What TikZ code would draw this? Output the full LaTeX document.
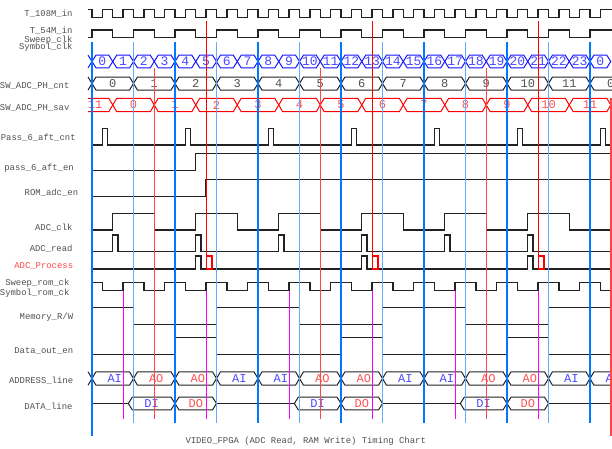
\documentclass[tikz,border=0pt]{standalone}
\usepackage{fontspec}
\setmonofont{Liberation Mono}
\usepackage{tikz}

\definecolor{wavegray}{RGB}{34,34,34}
\definecolor{labelgray}{RGB}{80,80,80}
\definecolor{busblue}{RGB}{20,20,255}
\definecolor{textblue}{RGB}{72,72,255}
\definecolor{textred}{RGB}{255,80,80}
\definecolor{markblue}{RGB}{0,120,255}
\definecolor{marklight}{RGB}{100,170,255}
\definecolor{markred}{RGB}{255,70,70}
\definecolor{markpink}{RGB}{255,0,255}

% one bus value: style, from, to, centre y, half height, name, text style, text
\newcommand{\busseg}[8]{%
  \draw[busline, #1] (#2,#4) -- ({#2+0.19},{#4-#5}) -- ({#3-0.19},{#4-#5})
    -- ({#3},#4) -- ({#3-0.19},{#4+#5}) -- ({#2+0.19},{#4+#5}) -- cycle;
  \node[busval, #7] (#6) at ({(#2+#3)/2},#4) {#8};
}

\begin{document}
\begin{tikzpicture}[x=20.75pt, y=-1pt]
        % Define styles
        \tikzset{
            wave/.style={draw=wavegray, line width=1.3pt},
            busline/.style={line width=1pt, line join=miter},
            signame/.style={anchor=base east, inner sep=0pt, text=labelgray, font=\ttfamily\fontsize{8.9}{10}\selectfont},
            busval/.style={inner sep=0pt, font=\ttfamily\fontsize{12}{12}\selectfont},
            markdark/.style={draw=markblue, line width=1.1pt},
            marklite/.style={draw=marklight, line width=1.5pt},
            markadc/.style={draw=markred, line width=1.4pt},
            markrom/.style={draw=red, line width=1.2pt},
            markram/.style={draw=markpink, line width=1.1pt}
        }
        \useasboundingbox (-4.4337,0) rectangle (25.0602,448);

        % Signal names
        \node[signame] (name_t108) at (-0.930,16) {T\_108M\_in};
        \node[signame] (name_t54) at (-0.930,33.5) {T\_54M\_in};
        \node[signame] (name_sweep_clk) at (-0.930,42.3) {Sweep\_clk};
        \node[signame] (name_symbol_clk) at (-0.930,49.8) {Symbol\_clk};
        \node[signame] (name_ph_cnt) at (-1.08,88.5) {SW\_ADC\_PH\_cnt};
        \node[signame] (name_ph_sav) at (-1.08,110) {SW\_ADC\_PH\_sav};
        \node[signame] (name_pass_cnt) at (-0.78,140.5) {Pass\_6\_aft\_cnt};
        \node[signame] (name_pass_en) at (-0.867,170) {pass\_6\_aft\_en};
        \node[signame] (name_rom_en) at (-0.660,195.5) {ROM\_adc\_en};
        \node[signame] (name_adc_clk) at (-0.930,230) {ADC\_clk};
        \node[signame] (name_adc_read) at (-0.930,251) {ADC\_read};
        \node[signame, text=markred] (name_adc_proc) at (-0.901,268.3) {ADC\_Process};
        \node[signame] (name_sweep_rom) at (-1.08,285.5) {Sweep\_rom\_ck};
        \node[signame] (name_symbol_rom) at (-1.08,295) {Symbol\_rom\_ck};
        \node[signame] (name_mem_rw) at (-0.901,319.3) {Memory\_R/W};
        \node[signame] (name_data_en) at (-0.901,353.3) {Data\_out\_en};
        \node[signame] (name_addr) at (-0.901,383) {ADDRESS\_line};
        \node[signame] (name_data) at (-0.930,409) {DATA\_line};

        % Clocks
        \draw[wave] (-0.19,9.5) \foreach \k in {0,...,24}{ -- (\k,9.5) -- (\k,17.5) -- (\k+0.5,17.5) -- (\k+0.5,9.5) } -- (25.1,9.5);
        \draw[wave] (-0.19,37.3) \foreach \k in {0,2,...,22}{ -- (\k,37.3) -- (\k,30) -- (\k+1,30) -- (\k+1,37.3) } -- (24,37.3) -- (24,30) -- (25.1,30);

        % Buses
        \draw[busline, draw=busblue] (-0.19,55.2) -- (0,61.5) -- (-0.19,67.8);
        \foreach \k in {0,...,24}{
            \pgfmathtruncatemacro{\symval}{mod(\k,24)}
            \busseg{draw=busblue}{\k}{\k+1}{61.5}{6.3}{sym_\k}{text=textblue, font=\ttfamily\fontsize{13}{13}\selectfont}{\symval}
        }
        \draw[busline, draw=wavegray] (-0.19,77) -- (0,83.5) -- (-0.19,90);
        \foreach \k in {0,...,12}{
            \pgfmathtruncatemacro{\cntval}{mod(\k,12)}
            \busseg{draw=wavegray}{2*\k}{2*\k+2}{83.5}{6.5}{cnt_\k}{text=labelgray}{\cntval}
        }
        \draw[busline, draw=red] (-0.19,98.3) -- (0.81,98.3) -- (1,105) -- (0.81,111.7) -- (-0.19,111.7);
        \node[busval, text=textred] (sav_start) at (0.15,105) {11};
        \foreach \k in {0,...,11}{
            \busseg{draw=red}{2*\k+1}{2*\k+3}{105}{6.7}{sav_\k}{text=textred}{\k}
        }

        % Control signals
        \draw[wave] (0,145) \foreach \k in {0.5,4.5,...,24.5}{ -- (\k,145) -- (\k,128.3) -- (\k+0.25,128.3) -- (\k+0.25,145) } -- (25.1,145);
        \draw[wave] (0,170.7) -- (5,170.7) -- (5,153.3) -- (25.1,153.3);
        \draw[wave] (0,196.7) -- (5.5,196.7) -- (5.5,179.3) -- (25.1,179.3);
        \draw[wave] (0,230) \foreach \k in {1,5,...,21}{ -- (\k,230) -- (\k,213.3) -- (\k+2,213.3) -- (\k+2,230) } -- (25.1,230);
        \draw[wave] (0,251.7) \foreach \k in {1,5,...,21}{ -- (\k,251.7) -- (\k,235) -- (\k+0.25,235) -- (\k+0.25,251.7) } -- (25.1,251.7);
        \draw[wave] (0,269) \foreach \k in {5,13,21}{ -- (\k,269) -- (\k,256) -- (\k+0.25,256) -- (\k+0.25,269) } -- (25.1,269);
        \foreach \k in {5.5,13.5,21.5}{
            \draw[draw=red, line width=1.2pt] (\k,269) rectangle (\k+0.28,256);
        }
        \draw[wave] (0,282.3) \foreach \k in {0.5,2.5,...,22.5}{ -- (\k,282.3) -- (\k,290.7) -- (\k+1,290.7) -- (\k+1,282.3) } -- (24.5,282.3) -- (24.5,290.7) -- (25.1,290.7);
        \draw[wave] (0,307.3) -- (2,307.3) -- (2,324.3) -- (6,324.3) -- (6,307.3) -- (10,307.3) -- (10,324.3) -- (14,324.3) -- (14,307.3) -- (18,307.3) -- (18,324.3) -- (22,324.3) -- (22,307.3) -- (25.1,307.3);
        \draw[wave] (0,354.3) -- (4,354.3) -- (4,337.7) -- (6,337.7) -- (6,354.3) -- (12,354.3) -- (12,337.7) -- (14,337.7) -- (14,354.3) -- (20,354.3) -- (20,337.7) -- (22,337.7) -- (22,354.3) -- (25.1,354.3);

        % Address and data
        \draw[busline, draw=wavegray] (-0.19,371.8) -- (0,378.5) -- (-0.19,385.2);
        \foreach \k/\addr/\col in {0/AI/textblue, 1/AO/textred, 2/AO/textred, 3/AI/textblue, 4/AI/textblue, 5/AO/textred, 6/AO/textred, 7/AI/textblue, 8/AI/textblue, 9/AO/textred, 10/AO/textred, 11/AI/textblue, 12/AI/textblue}{
            \busseg{draw=wavegray}{2*\k}{2*\k+2}{378.5}{6.7}{addr_\k}{text=\col, xshift=2pt}{\addr}
        }
        \draw[busline, draw=wavegray] (0,403.5) -- (1.75,403.5);
        \busseg{draw=wavegray}{1.75}{4}{403.5}{6.3}{data_di_1}{text=textblue}{DI}
        \busseg{draw=wavegray}{4}{6}{403.5}{6.3}{data_do_1}{text=textred}{DO}
        \draw[busline, draw=wavegray] (6,403.5) -- (9.75,403.5);
        \busseg{draw=wavegray}{9.75}{12}{403.5}{6.3}{data_di_2}{text=textblue}{DI}
        \busseg{draw=wavegray}{12}{14}{403.5}{6.3}{data_do_2}{text=textred}{DO}
        \draw[busline, draw=wavegray] (14,403.5) -- (17.75,403.5);
        \busseg{draw=wavegray}{17.75}{20}{403.5}{6.3}{data_di_3}{text=textblue}{DI}
        \busseg{draw=wavegray}{20}{22}{403.5}{6.3}{data_do_3}{text=textred}{DO}
        \draw[busline, draw=wavegray] (22,403.5) -- (25.1,403.5);

        % Marker lines
        \draw[markdark] (0,42) -- (0,436);
        \foreach \k in {4,8,...,24}{ \draw[markdark] (\k,42) -- (\k,423); }
        \foreach \k in {2,6,...,22}{ \draw[marklite] (\k,42) -- (\k,423); }
        \foreach \k in {3,11,19}{ \draw[markadc] (\k,68) -- (\k,419); }
        \foreach \k in {5.5,13.5,21.5}{ \draw[markrom] (\k,21) -- (\k,270); }
        \foreach \k in {1.5,5.5,...,21.5}{ \draw[markram] (\k,291) -- (\k,419); }
        \draw[markadc, line width=2pt] (25.02,98) -- (25.02,436);

        % Title
        \node[anchor=base, inner sep=0pt, text=labelgray, font=\ttfamily\fontsize{8.9}{10}\selectfont] (chart_title) at (10.30,443.3) {VIDEO\_FPGA (ADC Read, RAM Write) Timing Chart};
\end{tikzpicture}
\end{document}
